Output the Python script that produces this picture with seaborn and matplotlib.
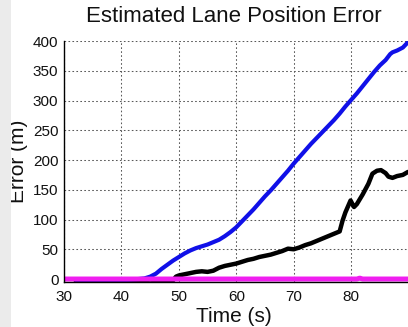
import numpy as np
import pandas as pd
import matplotlib
matplotlib.use("Agg")
import matplotlib.pyplot as plt
import seaborn as sns

# Error traces (time in seconds, error in metres)
blue_t = [32, 35, 38, 41, 43, 44, 45, 46, 47, 48, 49, 50, 51, 52, 53, 54, 55, 56, 57,
          58, 59, 60, 61, 62, 63, 64, 65, 66, 67, 68, 69, 70, 71, 72, 73, 74, 75,
          76, 77, 78, 79, 80, 81, 82, 83, 84, 85, 86, 86.8, 87.2, 88, 89, 89.9]
blue_e = [-1, -1, -1, -1, 0, 1, 4, 9, 17, 24, 31, 37, 43, 48, 52, 55, 58, 62, 66,
          72, 79, 87, 97, 107, 117, 128, 139, 149, 160, 171, 182, 194, 205, 216, 227, 237, 247,
          257, 267, 278, 290, 301, 312, 324, 336, 348, 359, 368, 378, 381, 384, 389, 398]

black_t = [32, 35, 38, 41, 44, 45, 46, 47, 48, 48.6, 49, 49.5, 50, 51, 52, 53, 54, 55, 56,
           57, 58, 59, 60, 61, 62, 63, 64, 65, 66, 67, 68, 69, 70, 71, 72, 73, 74,
           75, 76, 77, 78, 78.5, 79, 79.9, 80.5, 81, 82, 83, 83.7, 84.5, 85.2, 86, 86.5,
           87.2, 88, 89, 89.9]
black_e = [-2, -2, -2, -2, -2, -1, -2, -4, -5, -6, -2, 4, 6, 8, 10, 12, 13, 12, 14,
           19, 22, 24, 26, 29, 32, 34, 37, 39, 41, 44, 47, 51, 50, 53, 57, 60, 64,
           68, 72, 76, 80, 98, 112, 132, 121, 126, 142, 160, 177, 182, 183, 178, 172,
           170, 173, 175, 180]

pink_t = [30, 81, 81.5, 82, 90]
pink_e = [0, 0, 1.5, 0, 0]

x_ticks = [30, 40, 50, 60, 70, 80]
y_ticks = [0, 50, 100, 150, 200, 250, 300, 350, 400]

sns.set_style("white")
plt.rcParams["font.family"] = ["Liberation Sans", "DejaVu Sans"]

W, H = 408, 327
fig = plt.figure(figsize=(W / 100, H / 100), dpi=100)
fig.patch.set_facecolor("white")
ax = fig.add_axes([64 / W, 1 - 282 / H, (W - 64) / W, (282 - 41) / H])

sns.lineplot(x=black_t, y=black_e, ax=ax, color="black", linewidth=3.2,
             estimator=None, sort=False, zorder=3)
sns.lineplot(x=blue_t, y=blue_e, ax=ax, color="#1010e8", linewidth=3.0,
             estimator=None, sort=False, zorder=4)
sns.lineplot(x=pink_t, y=pink_e, ax=ax, color="#f01ef0", linewidth=3.6,
             estimator=None, sort=False, zorder=5)

ax.set_xlim(30, 89.9)
ax.set_ylim(-5, 400)
ax.set_xticks(x_ticks)
ax.set_yticks(y_ticks)
ax.set_xticklabels([str(v) for v in x_ticks])
ax.set_yticklabels([str(v) for v in y_ticks])
ax.tick_params(axis="both", length=0, labelsize=11, colors="#111111")
ax.tick_params(axis="x", pad=6)
ax.tick_params(axis="y", pad=4)

ax.grid(True, color="#5a5a5a", linestyle=(0, (1.6, 2.2)), linewidth=0.75, zorder=1)
ax.set_axisbelow(True)

for side in ("top", "right"):
    ax.spines[side].set_visible(False)
for side in ("left", "bottom"):
    ax.spines[side].set_color("black")
    ax.spines[side].set_linewidth(1.0)
    ax.spines[side].set_zorder(6)

ax.set_xlabel("")
ax.set_ylabel("")

fig.text(234 / W, 1 - 17 / H, "Estimated Lane Position Error", ha="center",
         va="center", fontsize=16, color="#111111")
fig.text(234 / W, 1 - 316 / H, "Time (s)", ha="center", va="center",
         fontsize=15, color="#111111")
fig.text(19 / W, 1 - 161 / H, "Error (m)", ha="center", va="center",
         rotation=90, fontsize=15, color="#111111")

# light grey band along the left edge
fig.patches.append(plt.Rectangle((0, 0), 11 / W, 1, transform=fig.transFigure,
                                 facecolor="#ebebeb", edgecolor="none", zorder=10))

fig.savefig("out.png", dpi=100)
